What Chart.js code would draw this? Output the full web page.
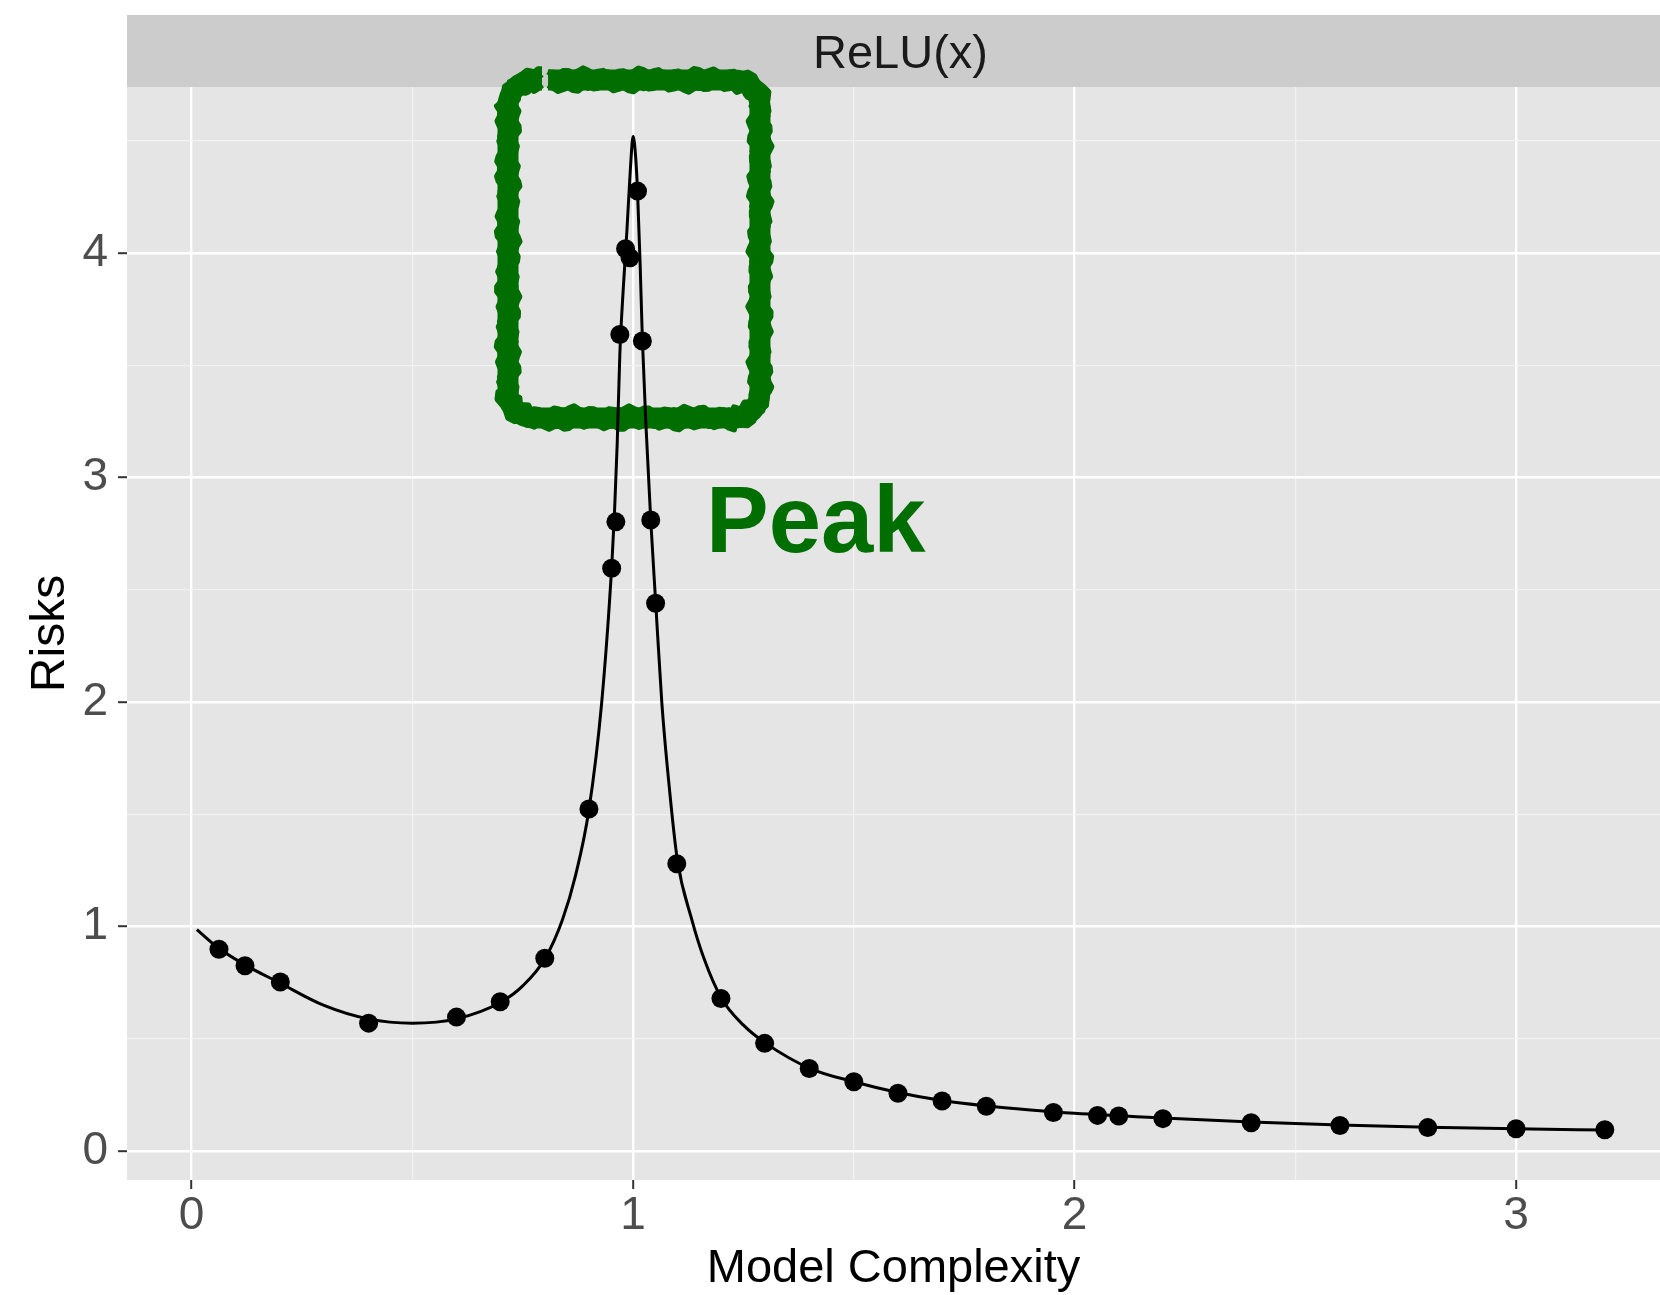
<!DOCTYPE html>
<html>
<head>
<meta charset="utf-8">
<script src="https://cdn.jsdelivr.net/npm/chart.js@4.4.1/dist/chart.umd.min.js"></script>
<style>
  html, body { margin: 0; padding: 0; background: #ffffff; overflow: hidden; }
  #wrap { width: 1660px; height: 1295px; position: relative; }
  #riskChart { display: block; }
</style>
</head>
<body>
<div id="wrap"><canvas id="riskChart"></canvas></div>
<script>
// simulated risks (dots)
var dotX = [0.062, 0.121, 0.201, 0.401, 0.600, 0.699, 0.800, 0.900, 0.9515, 0.961, 0.970, 0.983, 0.993,
            1.010, 1.021, 1.040, 1.051, 1.099, 1.199, 1.298, 1.399, 1.500, 1.600, 1.700, 1.800, 1.952,
            2.052, 2.100, 2.200, 2.400, 2.601, 2.800, 3.000, 3.201];
var dotY = [0.898, 0.825, 0.752, 0.569, 0.596, 0.664, 0.858, 1.523, 2.596, 2.803, 3.638, 4.02, 3.98,
            4.277, 3.609, 2.811, 2.44, 1.279, 0.679, 0.479, 0.367, 0.308, 0.257, 0.222, 0.199, 0.171,
            0.158, 0.155, 0.1435, 0.125, 0.113, 0.1035, 0.098, 0.094];

// theoretical risk curve
var curveX = [0.012, 0.06, 0.12, 0.2, 0.3, 0.4, 0.5, 0.6, 0.7, 0.75, 0.8, 0.84, 0.87, 0.9, 0.929,
              0.9515, 0.958, 0.964, 0.970, 0.978, 0.986, 0.994, 1.0, 1.005, 1.010, 1.016, 1.021, 1.029,
              1.040, 1.051, 1.065, 1.08, 1.1, 1.133, 1.16, 1.2, 1.25, 1.3, 1.4, 1.5, 1.6, 1.7, 1.8,
              1.9, 2.0, 2.2, 2.4, 2.6, 2.8, 3.0, 3.2];
var curveY = [0.986, 0.905, 0.83, 0.748, 0.648, 0.588, 0.569, 0.588, 0.662, 0.735, 0.855, 1.03, 1.23, 1.52, 2.0,
              2.6, 2.85, 3.15, 3.55, 3.85, 4.1, 4.38, 4.52, 4.45, 4.28, 3.95, 3.62, 3.24,
              2.81, 2.45, 2.0, 1.66, 1.3, 1.03, 0.86, 0.68, 0.56, 0.48, 0.368, 0.308, 0.26, 0.224, 0.2,
              0.182, 0.167, 0.146, 0.128, 0.115, 0.105, 0.098, 0.093];

var xMajor = [0, 1, 2, 3];
var xMinor = [0.5, 1.5, 2.5];
var yMajor = [0, 1, 2, 3, 4];
var yMinor = [0.5, 1.5, 2.5, 3.5, 4.5];

var panelTitle = 'ReLU(x)';
var xTitle = 'Model Complexity';
var yTitle = 'Risks';
var noteText = 'Peak';
var green = '#006e00';
var fontName = '"Liberation Sans"';

function pairs(xs, ys) {
    return xs.map(function(x, i) { return {x: x, y: ys[i]}; });
}
function gridTicks(major, minor) {
    return major.concat(minor).sort(function(a, b) { return a - b; })
        .map(function(v) { return {value: v}; });
}
function isMajor(list, v) { return list.indexOf(v) !== -1; }

var facetStrip = {
    id: 'facetStrip',
    beforeDraw: function(chart) {
        var c = chart.ctx, a = chart.chartArea;
        var stripTop = 15;
        c.save();
        c.fillStyle = '#e5e5e5';
        c.fillRect(a.left, a.top, a.right - a.left, a.bottom - a.top);
        c.fillStyle = '#cccccc';
        c.fillRect(a.left, stripTop, a.right - a.left, a.top - stripTop);
        c.fillStyle = '#1a1a1a';
        c.font = '47px ' + fontName;
        c.textAlign = 'center';
        c.textBaseline = 'alphabetic';
        c.fillText(panelTitle, (a.left + a.right) / 2 + 7, 68);
        c.restore();
    }
};

// hand drawn looking box around the peak, and the label
function boxOutline(x0, y0, x1, y1, r, gap0, gap1) {
    var pts = [];
    function arc(cx, cy, a0) {
        for (var t = 0; t <= 8; t++) {
            var ang = a0 + t / 8 * Math.PI / 2;
            pts.push([cx + r * Math.cos(ang), cy + r * Math.sin(ang), Math.cos(ang), Math.sin(ang)]);
        }
    }
    function line(xa, ya, xb, yb, nx, ny) {
        var n = Math.max(2, Math.round(Math.hypot(xb - xa, yb - ya) / 5));
        for (var t = 0; t <= n; t++) {
            pts.push([xa + (xb - xa) * t / n, ya + (yb - ya) * t / n, nx, ny]);
        }
    }
    line(gap1, y0, x1 - r, y0, 0, -1);
    arc(x1 - r, y0 + r, -Math.PI / 2);
    line(x1, y0 + r, x1, y1 - r, 1, 0);
    arc(x1 - r, y1 - r, 0);
    line(x1 - r, y1, x0 + r, y1, 0, 1);
    arc(x0 + r, y1 - r, Math.PI / 2);
    line(x0, y1 - r, x0, y0 + r, -1, 0);
    arc(x0 + r, y0 + r, Math.PI);
    line(x0 + r, y0, gap0, y0, 0, -1);
    return pts;
}

var peakMarker = {
    id: 'peakMarker',
    beforeDatasetsDraw: function(chart) {
        var c = chart.ctx, sx = chart.scales.x, sy = chart.scales.y;
        var x0 = sx.getPixelForValue(0.7167), x1 = sx.getPixelForValue(1.2874);
        var y0 = sy.getPixelForValue(4.772), y1 = sy.getPixelForValue(3.266);
        var pts = boxOutline(x0, y0, x1, y1, 26, x0 + 34, x0 + 40);
        var passes = [[0, 21, 0], [-8, 6, 1.3], [8, 6, 2.1], [-5, 5, 3.7], [5, 5, 0.6]];
        c.save();
        c.strokeStyle = green;
        c.lineJoin = 'round';
        passes.forEach(function(p) {
            c.lineWidth = p[1];
            c.beginPath();
            pts.forEach(function(q, i) {
                var off = p[0] ? p[0] + 2.2 * Math.sin(i * 1.7 + p[2]) + 1.5 * Math.sin(i * 0.53 + p[2] * 2) : 0;
                var px = q[0] + q[2] * off, py = q[1] + q[3] * off;
                if (i) c.lineTo(px, py); else c.moveTo(px, py);
            });
            c.stroke();
        });
        c.fillStyle = green;
        c.font = 'bold 94px ' + fontName;
        c.textAlign = 'left';
        c.textBaseline = 'alphabetic';
        c.fillText(noteText, sx.getPixelForValue(1.165), sy.getPixelForValue(2.667));
        c.restore();
    }
};

var ctx = document.getElementById('riskChart');

var riskChart = new Chart(ctx, {
    type: 'scatter',
    data: {
        datasets: [{
            label: 'simulated',
            data: pairs(dotX, dotY),
            pointRadius: 9.5,
            pointHoverRadius: 9.5,
            pointBackgroundColor: '#000000',
            pointBorderWidth: 0,
            showLine: false
        }, {
            label: 'theory',
            data: pairs(curveX, curveY),
            showLine: true,
            pointRadius: 0,
            borderColor: '#000000',
            borderWidth: 3,
            cubicInterpolationMode: 'monotone',
            fill: false
        }]
    },
    options: {
        responsive: true,
        maintainAspectRatio: false,
        animation: false,
        layout: { autoPadding: false, padding: { top: 87, left: 0, right: 0, bottom: 0 } },
        plugins: {
            legend: { display: false },
            tooltip: { enabled: false }
        },
        scales: {
            x: {
                type: 'linear',
                min: -0.1463,
                max: 3.326,
                afterBuildTicks: function(scale) { scale.ticks = gridTicks(xMajor, xMinor); },
                afterFit: function(scale) { scale.height = 115; },
                border: { display: false },
                grid: {
                    color: function(c) { return isMajor(xMajor, c.tick.value) ? '#ffffff' : '#f2f2f2'; },
                    lineWidth: function(c) { return isMajor(xMajor, c.tick.value) ? 2.4 : 1.2; },
                    tickColor: function(c) { return isMajor(xMajor, c.tick.value) ? '#333333' : 'rgba(0,0,0,0)'; },
                    tickWidth: 2,
                    tickLength: 9
                },
                ticks: {
                    autoSkip: false,
                    maxRotation: 0,
                    padding: 0,
                    color: '#4d4d4d',
                    font: { family: fontName, size: 46 },
                    callback: function(v) { return isMajor(xMajor, v) ? String(v) : ''; }
                },
                title: {
                    display: true,
                    text: xTitle,
                    color: '#000000',
                    font: { family: fontName, size: 47, lineHeight: 1.1 },
                    padding: { top: 0, bottom: 0 }
                }
            },
            y: {
                type: 'linear',
                min: -0.130,
                max: 4.741,
                afterBuildTicks: function(scale) { scale.ticks = gridTicks(yMajor, yMinor); },
                afterFit: function(scale) { scale.width = 127; },
                border: { display: false },
                grid: {
                    color: function(c) { return isMajor(yMajor, c.tick.value) ? '#ffffff' : '#f2f2f2'; },
                    lineWidth: function(c) { return isMajor(yMajor, c.tick.value) ? 2.4 : 1.2; },
                    tickColor: function(c) { return isMajor(yMajor, c.tick.value) ? '#333333' : 'rgba(0,0,0,0)'; },
                    tickWidth: 2,
                    tickLength: 9
                },
                ticks: {
                    autoSkip: false,
                    padding: 10,
                    color: '#4d4d4d',
                    font: { family: fontName, size: 46 },
                    callback: function(v) { return isMajor(yMajor, v) ? String(v) : ''; }
                },
                title: {
                    display: true,
                    text: yTitle,
                    color: '#000000',
                    font: { family: fontName, size: 48, lineHeight: 1.2 },
                    padding: { top: 22, bottom: 0 }
                }
            }
        }
    },
    plugins: [facetStrip, peakMarker]
});
</script>
</body>
</html>
